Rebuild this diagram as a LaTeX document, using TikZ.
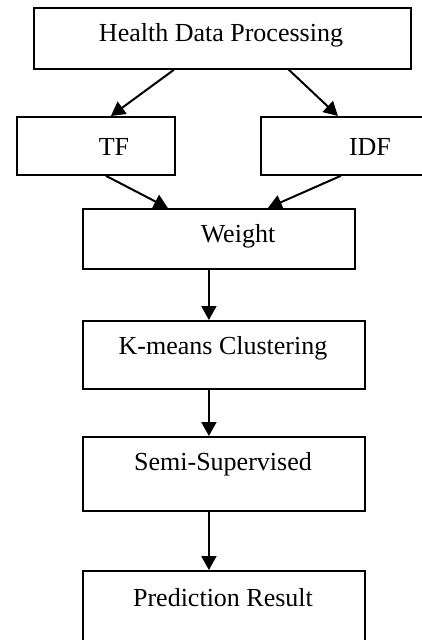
\documentclass[tikz,border=0pt]{standalone}
\usepackage{fontspec}
\setmainfont{Liberation Serif}
\usetikzlibrary{arrows.meta}
\begin{document}
\begin{tikzpicture}[x=1pt,y=-1pt,
  boxs/.style={draw=black,line width=1.8pt,rectangle,inner sep=0pt,anchor=north west},
  lbl/.style={inner sep=0pt,font=\fontsize{26}{30}\selectfont},
  arr/.style={draw=black,line width=2pt,-{Triangle[length=14pt,width=15pt]}}]
\useasboundingbox (0,0) rectangle (422,640);
\clip (0,0) rectangle (422,640);
\fill[white] (0,0) rectangle (422,640);
\node[boxs,minimum width=377pt,minimum height=61pt] (hdp) at (33,7) {};
\node[boxs,minimum width=158pt,minimum height=58pt] (tf) at (16,116) {};
\node[boxs,minimum width=180pt,minimum height=58pt] (idf) at (260,116) {};
\node[boxs,minimum width=272pt,minimum height=60pt] (wt) at (82,208) {};
\node[boxs,minimum width=282pt,minimum height=68pt] (km) at (82,320) {};
\node[boxs,minimum width=282pt,minimum height=74pt] (ss) at (82,436) {};
\node[boxs,minimum width=282pt,minimum height=90pt] (pr) at (82,570) {};
\node[lbl] (thdp) at (221,35) {Health Data Processing};
\node[lbl] (ttf) at (114,147) {TF};
\node[lbl] (tidf) at (370,147) {IDF};
\node[lbl] (twt) at (238,236) {Weight};
\node[lbl] (tkm) at (223,348) {K-means Clustering};
\node[lbl] (tss) at (223,464) {Semi-Supervised};
\node[lbl] (tpr) at (223,598) {Prediction Result};
\draw[arr] ([xshift=-48.5pt]hdp.south) -- ([xshift=15pt]tf.north);
\draw[arr] ([xshift=66.5pt]hdp.south) -- ([xshift=-13pt]idf.north);
\draw[arr] ([xshift=10pt]tf.south) -- ([xshift=-51pt]wt.north);
\draw[arr] ([xshift=-10pt]idf.south) -- ([xshift=49pt]wt.north);
\draw[arr] ([xshift=-10pt]wt.south) -- ([xshift=-15pt]km.north);
\draw[arr] ([xshift=-15pt]km.south) -- ([xshift=-15pt]ss.north);
\draw[arr] ([xshift=-15pt]ss.south) -- ([xshift=-15pt]pr.north);
\end{tikzpicture}
\end{document}
